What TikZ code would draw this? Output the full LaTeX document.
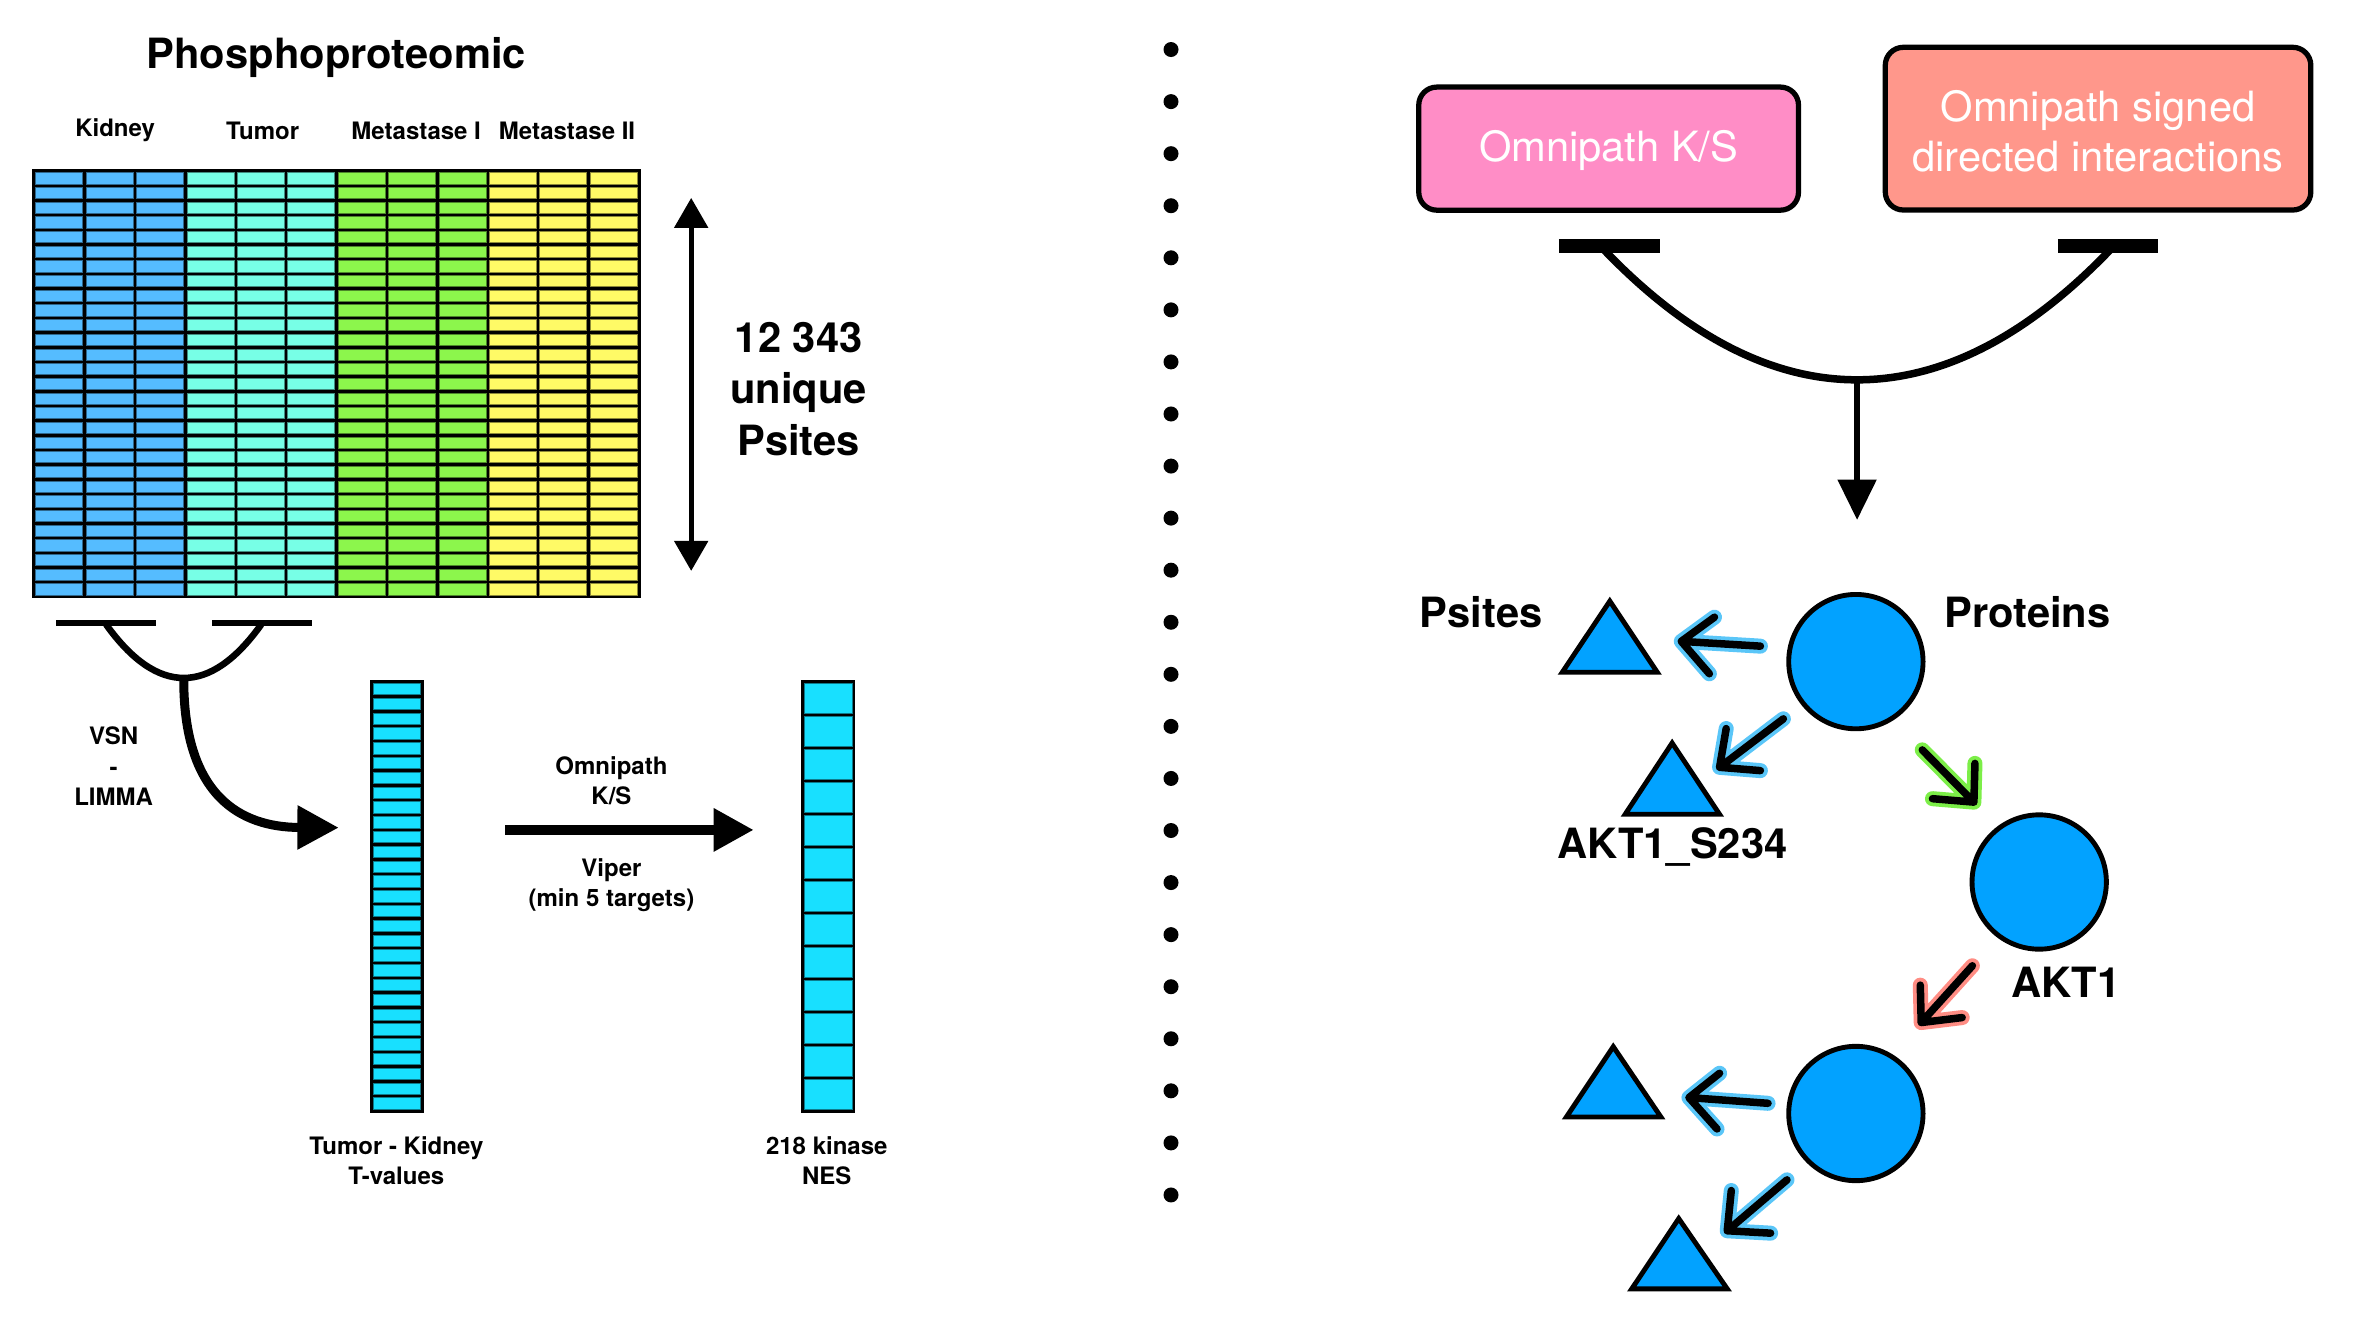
\documentclass[tikz,border=0pt]{standalone}
\usepackage{fontspec}
\setmainfont{TeX Gyre Heros}
\usetikzlibrary{arrows.meta}
\definecolor{kid}{HTML}{55BCFF}
\definecolor{tum}{HTML}{77FFE6}
\definecolor{meta}{HTML}{8CF64C}
\definecolor{metb}{HTML}{FFFA66}
\definecolor{cyancell}{HTML}{18E0FF}
\definecolor{nodeblue}{HTML}{02A2FF}
\definecolor{pinkbox}{HTML}{FF8DC6}
\definecolor{salmonbox}{HTML}{FF978B}
\definecolor{haloblue}{HTML}{5AC6F8}
\definecolor{halogreen}{HTML}{7CEE48}
\definecolor{halored}{HTML}{FF8D84}
\newcommand{\myhalo}[5]{%
  \draw[#1, line width=0.2cm, line cap=round, line join=round] #2 -- #3 #4 -- #3 -- #5;
  \draw[black, line width=0.1cm, line cap=round, line join=round] #2 -- #3 #4 -- #3 -- #5;
}
\begin{document}
\begin{tikzpicture}[x=0.02cm,y=-0.02cm,
  big/.style={font=\fontsize{15.8}{19.6}\selectfont\bfseries, inner sep=0, align=center},
  small/.style={font=\fontsize{9.1}{11.6}\selectfont\bfseries, inner sep=0, align=center},
  boxtext/.style={font=\fontsize{15.8}{18.7}\selectfont, text=white, align=center, inner sep=0},
  cell/.style={line width=0.3pt},
  bar/.style={line width=0.08cm},
  tri/.style={fill=nodeblue, draw=black, line width=0.065cm, line join=miter},
  prot/.style={circle, fill=nodeblue, draw=black, line width=0.065cm, minimum size=1.79cm, inner sep=0},
  column/.style={fill=black, inner sep=0, minimum width=0.72cm, minimum height=5.764cm},
  dbx/.style={draw=black, line width=0.07cm, rounded corners=0.24cm, inner sep=0}
]
\fill[white] (0,0) rectangle (1568,879);
\useasboundingbox (0,0) rectangle (1568,879);

% ---------- left: heatmap ----------
\node[big] (title) at (224,38) {Phosphoproteomic};
\node[small] (lkid) at (76.7,86.9) {Kidney};
\node[small] (ltum) at (174.9,86.9) {Tumor};
\node[small] (lmeta) at (277.2,86.9) {Metastase I};
\node[small] (lmetb) at (377.7,86.9) {Metastase II};

\node[fill=black, inner sep=0, minimum width=8.106cm, minimum height=5.716cm] (heat) at (224.15,255.7) {};
\foreach \c [count=\i from 0] in {kid,kid,kid,tum,tum,tum,meta,meta,meta,metb,metb,metb} {
  \foreach \j in {0,...,28} {
    \filldraw[cell, fill=\c, draw=\c!55!black] ({23.8+\i*33.58},{115.1+\j*9.776}) rectangle ++(31.28,7.476);
  }
}

\coordinate (dtop) at (460.4,131.8);
\coordinate (dbot) at (460.4,380.3);
\draw[line width=0.07cm, {Triangle[length=0.4cm,width=0.44cm]}-{Triangle[length=0.4cm,width=0.44cm]}] (dtop) -- (dbot);
\node[big] (count) at (532,259) {12 343\\unique\\Psites};

% bracket
\coordinate (b1l) at (37.5,414.7);
\coordinate (b1r) at (104,414.7);
\coordinate (b2l) at (141.5,414.7);
\coordinate (b2r) at (208,414.7);
\draw[bar] (b1l) -- (b1r);
\draw[bar] (b2l) -- (b2r);
\coordinate (bk) at (122.4,451.6);
\draw[line width=0.088cm] (70.7,416) .. controls (87.9,440) and (105.2,451.6) .. (bk)
   .. controls (139.6,451.6) and (156.8,440) .. (174,416);
\coordinate (tcolin) at (225.6,551.3);
\draw[line width=0.12cm, -{Triangle[length=0.55cm,width=0.56cm]}] (bk) .. controls (122,530) and (160,551) .. (tcolin);
\node[small] (vsn) at (75.7,510.5) {VSN\\-\\LIMMA};

% T-values column
\node[column] (tcol) at (264.4,597) {};
\foreach \j in {0,...,28} {
  \filldraw[cell, fill=cyancell, draw=cyancell!55!black] (248.9,{455.2+\j*9.859}) rectangle ++(31,7.559);
}
\node[small] (tlab) at (264,773) {Tumor - Kidney\\T-values};

% arrow to NES
\coordinate (hstart) at (336.5,552.8);
\coordinate (hend) at (502.1,552.8);
\draw[line width=0.136cm, -{Triangle[length=0.536cm,width=0.544cm]}] (hstart) -- (hend);
\node[small] (omks) at (407.3,520) {Omnipath\\K/S};
\node[small] (viper) at (407.3,589.5) {Viper\\(min 5 targets)};

% NES column
\node[column] (nes) at (551.6,597) {};
\foreach \j in {0,...,12} {
  \filldraw[cell, fill=cyancell, draw=cyancell!55!black] (535.7,{455.2+\j*21.99}) rectangle ++(31.8,19.69);
}
\node[small] (nlab) at (550.7,773) {218 kinase\\NES};

% ---------- separator ----------
\foreach \k in {0,...,22} {
  \fill[black] (780,{33+\k*34.68}) circle[radius=0.1cm];
}

% ---------- right ----------
\node[dbx, fill=pinkbox, minimum width=5.06cm, minimum height=1.64cm] (ksbox) at (1071.5,99) {};
\node[boxtext] (kstext) at (1071.5,100) {Omnipath K/S};
\node[dbx, fill=salmonbox, minimum width=5.67cm, minimum height=2.168cm] (sdbox) at (1397.5,85.7) {};
\node[boxtext] (sdtext) at (1397.5,87.5) {Omnipath signed\\directed interactions};

\coordinate (r1l) at (1038.3,163.9);
\coordinate (r1r) at (1105.6,163.9);
\coordinate (r2l) at (1370.8,163.9);
\coordinate (r2r) at (1437.2,163.9);
\draw[line width=0.18cm] (r1l) -- (r1r);
\draw[line width=0.18cm] (r2l) -- (r2r);
\coordinate (rk) at (1237,253);
\draw[line width=0.1cm] (1068,166) .. controls (1124.3,224.7) and (1180.7,253) .. (rk)
   .. controls (1293.3,253) and (1349.7,224.7) .. (1406,166);
\coordinate (rtip) at (1237,346.4);
\draw[line width=0.09cm, -{Triangle[length=0.54cm,width=0.5cm]}] (rk) -- (rtip);

\node[big] (psl) at (986.5,407.8) {Psites};
\node[big] (prl) at (1350.5,407.8) {Proteins};

\node[prot] (c1) at (1236.2,440.7) {};
\node[prot] (c2) at (1358.3,587.5) {};
\node[prot] (c3) at (1236.2,741.7) {};

\draw[tri] (1040.6,447.8) -- (1072.3,400.4) -- (1103.9,447.8) -- cycle;
\draw[tri] (1082.5,542.4) -- (1113.8,494.9) -- (1145.4,542.4) -- cycle;
\draw[tri] (1043.4,744) -- (1074.6,697.2) -- (1106.3,744) -- cycle;
\draw[tri] (1086.9,858.5) -- (1118.2,811.7) -- (1150.5,858.5) -- cycle;

\node[big] (s234) at (1114,564.5) {AKT1\_S234};
\node[big] (akt) at (1376,654.5) {AKT1};

\myhalo{haloblue}{(1172.6,430.4)}{(1119.9,427.2)}{(1142,411.1)}{(1138.6,448.8)}
\myhalo{haloblue}{(1187.9,478.8)}{(1145.4,511.1)}{(1149.8,485.3)}{(1172.6,513.3)}
\myhalo{halogreen}{(1280.4,499.5)}{(1314.8,534.3)}{(1315.5,508.5)}{(1287.2,532)}
\myhalo{halored}{(1313.8,643.3)}{(1279.7,681.1)}{(1279.1,656.2)}{(1307,677.8)}
\myhalo{haloblue}{(1177.7,734.9)}{(1125,731.1)}{(1145.4,714.9)}{(1143.7,752)}
\myhalo{haloblue}{(1190.3,785.9)}{(1150.5,819.8)}{(1153.2,793)}{(1179.4,821.4)}
\end{tikzpicture}
\end{document}
